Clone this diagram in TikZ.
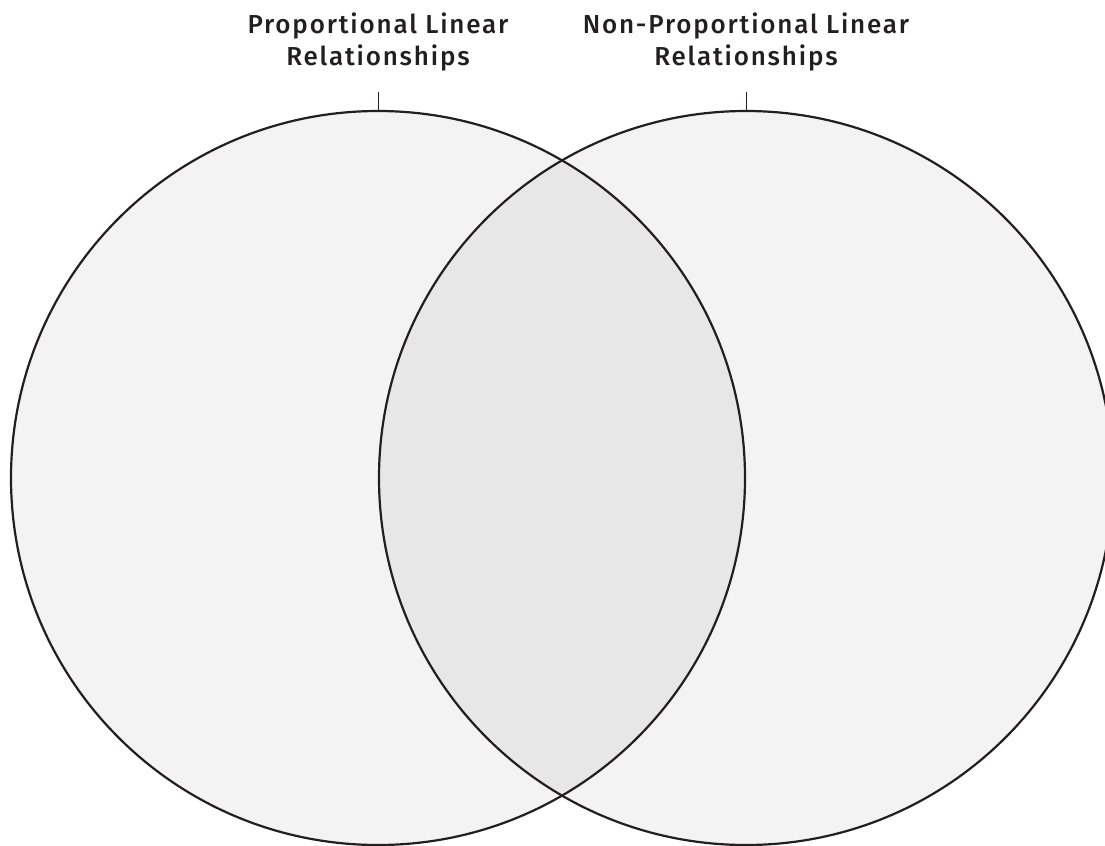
\documentclass[tikz,border=0pt]{standalone}
\usepackage{fontspec}
\setmainfont{Fira Sans}
\newfontfamily\labelfont{Fira Sans Medium}[LetterSpace=7]
\definecolor{ringfill}{HTML}{F3F3F3}
\definecolor{overlapfill}{HTML}{E7E7E7}
\definecolor{inkline}{HTML}{231F20}
\tikzset{
  vset/.style={circle, inner sep=0pt, outer sep=0pt, minimum size=734bp, fill=ringfill},
  ring/.style={draw=inkline, line width=2.2bp},
  tick/.style={draw=inkline, line width=1bp},
  setlabel/.style={align=center, text=inkline, inner sep=0pt, anchor=base,
    font=\labelfont\fontsize{26bp}{32bp}\selectfont},
}
\begin{document}
\begin{tikzpicture}[x=1bp,y=-1bp]
\useasboundingbox (0,0) rectangle (1105,846);
\clip (0,0) rectangle (1105,846);
\node[vset] (L) at (378,478) {};
\node[vset] (R) at (746,478) {};
\begin{scope}
  \clip (L.center) circle[radius=367bp];
  \fill[overlapfill] (R.center) circle[radius=367bp];
\end{scope}
\draw[ring] (L.center) circle[radius=367bp];
\draw[ring] (R.center) circle[radius=367bp];
\node[setlabel] (tL) at (378,65) {Proportional Linear\\Relationships};
\node[setlabel] (tR) at (746,65) {Non-Proportional Linear\\Relationships};
\coordinate (kL) at (378,92);
\coordinate (kR) at (746,92);
\draw[tick] (kL) -- (L.north);
\draw[tick] (kR) -- (R.north);
\end{tikzpicture}
\end{document}
